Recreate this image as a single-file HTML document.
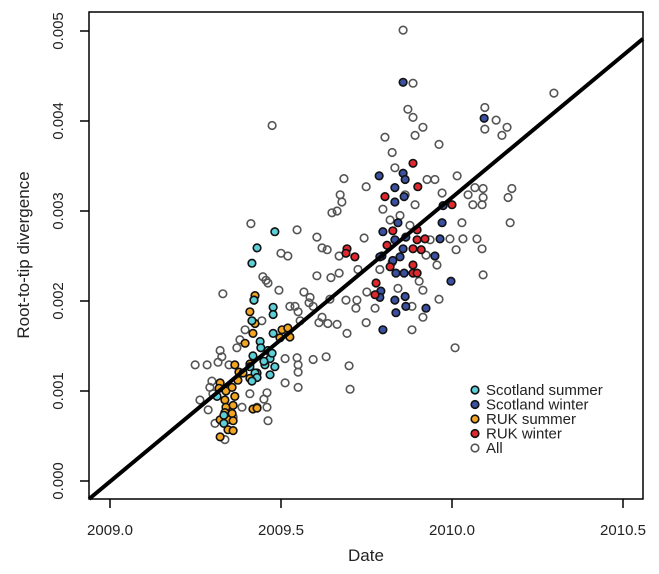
<!DOCTYPE html>
<html><head><meta charset="utf-8"><style>
html,body{margin:0;padding:0;background:#fff;}
svg{display:block;font-family:"Liberation Sans",Arial,sans-serif;}
</style></head><body>
<svg id="chart" width="659" height="574" viewBox="0 0 659 574" xmlns="http://www.w3.org/2000/svg">
<g id="points"></g>
<line id="fit" stroke="#000" stroke-width="4"/>
<rect x="89" y="12" width="554" height="487" fill="none" stroke="#000" stroke-width="1.5"/>
<g id="xaxis"></g>
<g id="yaxis"></g>
<text x="366" y="561" font-size="17" text-anchor="middle" fill="#222">Date</text>
<text transform="translate(29,255) rotate(-90)" font-size="17" text-anchor="middle" fill="#222">Root-to-tip divergence</text>
<g id="legend"></g>
</svg>
<script>
const xTicks=[2009.0,2009.5,2010.0,2010.5];
const xTickLabels=["2009.0","2009.5","2010.0","2010.5"];
const yTicks=[0,0.001,0.002,0.003,0.004,0.005];
const yTickLabels=["0.000","0.001","0.002","0.003","0.004","0.005"];
const fitSlope=0.003157;
const fitIntercept=2009.002;
const seriesNames=["Scotland summer","Scotland winter","RUK summer","RUK winter","All"];
const allDates=[2009.857,2009.886,2009.871,2009.886,2009.915,2009.892,2009.804,2009.962,2009.825,2010.096,2010.129,2010.096,2010.161,2010.146,2010.298,2009.833,2009.927,2009.950,2010.015,2009.971,2010.047,2010.067,2010.091,2010.091,2010.061,2010.088,2010.175,2010.164,2010.170,2010.029,2009.994,2010.032,2010.073,2010.012,2010.088,2009.956,2010.091,2009.904,2009.915,2009.842,2009.883,2009.962,2010.009,2009.474,2009.684,2009.749,2009.673,2009.678,2009.649,2009.664,2009.798,2009.819,2009.848,2009.877,2009.412,2009.547,2009.605,2009.620,2009.635,2009.500,2009.520,2009.743,2009.670,2009.725,2009.447,2009.456,2009.462,2009.605,2009.646,2009.670,2009.494,2009.567,2009.585,2009.582,2009.643,2009.690,2009.722,2009.719,2009.751,2009.775,2009.749,2009.693,2009.664,2009.637,2009.611,2009.550,2009.526,2009.541,2009.594,2009.620,2009.556,2009.512,2009.547,2009.550,2009.550,2009.594,2009.632,2009.699,2009.702,2009.550,2009.512,2009.459,2009.450,2009.330,2009.249,2009.284,2009.316,2009.322,2009.327,2009.348,2009.371,2009.298,2009.292,2009.301,2009.287,2009.307,2009.360,2009.386,2009.409,2009.430,2009.459,2009.462,2009.380,2009.395,2009.444,2009.512,2009.263,2009.336,2009.883,2009.915,2009.789,2009.825,2009.924,2009.936,2009.892,2009.863];
const allValues=[0.00501,0.00442,0.00413,0.00404,0.00393,0.00384,0.00382,0.00374,0.00365,0.00415,0.00401,0.00391,0.00393,0.00384,0.00431,0.00348,0.00335,0.00335,0.00339,0.0032,0.00318,0.00326,0.00325,0.00315,0.00307,0.00307,0.00325,0.00315,0.00287,0.00287,0.00269,0.00269,0.00269,0.00257,0.00258,0.0024,0.00229,0.00222,0.00212,0.00214,0.00194,0.00202,0.00148,0.00395,0.00336,0.00327,0.00318,0.0031,0.00298,0.003,0.00302,0.0029,0.00295,0.00284,0.00286,0.00279,0.00271,0.00259,0.00257,0.00253,0.0025,0.0027,0.0025,0.00235,0.00227,0.00223,0.0022,0.00228,0.00226,0.00231,0.00212,0.0021,0.00204,0.00198,0.00202,0.00201,0.00201,0.00192,0.0021,0.00192,0.00176,0.00164,0.00174,0.00175,0.00176,0.00188,0.00194,0.00194,0.00194,0.00182,0.00178,0.00136,0.00137,0.00129,0.00121,0.00135,0.00138,0.00128,0.00102,0.00104,0.00109,0.00098,0.00091,0.00208,0.00129,0.00129,0.00132,0.00145,0.00138,0.00129,0.00148,0.00111,0.00104,0.00097,0.00079,0.00064,0.00071,0.00082,0.00097,0.00082,0.00082,0.00067,0.00157,0.00168,0.00178,0.00168,0.0009,0.00046,0.00168,0.00182,0.00235,0.00243,0.00251,0.00268,0.00307,0.00318];
const scotWinterDates=[2009.857,2009.857,2009.863,2009.833,2009.833,2009.860,2009.974,2009.971,2009.842,2009.798,2009.833,2009.865,2009.965,2009.857,2009.795,2009.848,2009.827,2009.950,2009.836,2009.860,2009.997,2009.863,2009.833,2009.865,2009.924,2009.836,2009.787,2010.094,2009.792,2009.789,2009.798,2009.789];
const scotWinterValues=[0.00443,0.00342,0.00335,0.00326,0.0031,0.00316,0.00306,0.00287,0.00287,0.00277,0.00268,0.00271,0.00269,0.00258,0.0025,0.00249,0.00245,0.0025,0.00231,0.00231,0.00222,0.00205,0.00201,0.00194,0.00192,0.00187,0.00339,0.00403,0.00211,0.00204,0.00168,0.00249];
const rukWinterDates=[2009.886,2009.900,2009.804,2010.000,2009.827,2009.898,2009.898,2009.921,2009.810,2009.886,2009.886,2009.819,2009.886,2009.898,2009.693,2009.690,2009.716,2009.778,2009.775,2009.910];
const rukWinterValues=[0.00353,0.00327,0.00316,0.00307,0.00278,0.00279,0.00268,0.00269,0.00262,0.00258,0.0024,0.00238,0.00231,0.00231,0.00258,0.00253,0.00249,0.0022,0.00207,0.00257];
const rukSummerDates=[2009.424,2009.421,2009.409,2009.418,2009.424,2009.503,2009.520,2009.526,2009.497,2009.365,2009.377,2009.389,2009.409,2009.409,2009.322,2009.319,2009.339,2009.357,2009.365,2009.336,2009.339,2009.336,2009.360,2009.357,2009.345,2009.360,2009.322,2009.345,2009.360,2009.322,2009.418,2009.430,2009.395,2009.374];
const rukSummerValues=[0.00206,0.00201,0.00188,0.00164,0.00175,0.00168,0.0017,0.0016,0.00159,0.00129,0.00121,0.0012,0.0013,0.00114,0.00109,0.00103,0.001,0.00104,0.00094,0.0009,0.00082,0.00076,0.00084,0.00075,0.00068,0.00067,0.00068,0.00057,0.00056,0.00049,0.0008,0.00081,0.00153,0.00112];
const scotSummerDates=[2009.482,2009.430,2009.415,2009.421,2009.415,2009.477,2009.477,2009.477,2009.439,2009.418,2009.462,2009.468,2009.474,2009.453,2009.430,2009.468,2009.482,2009.409,2009.424,2009.430,2009.415,2009.313,2009.333,2009.333,2009.450,2009.441];
const scotSummerValues=[0.00277,0.00259,0.00242,0.00201,0.00178,0.00193,0.00185,0.00164,0.00155,0.00139,0.00145,0.00136,0.00142,0.00129,0.0012,0.00118,0.00127,0.00127,0.0012,0.00115,0.00111,0.00094,0.00073,0.00064,0.00133,0.00148];

const NS="http://www.w3.org/2000/svg";
function xScale(t){return 110+(t-2009)*342;}
function yScale(v){return 481-v*90000;}
function mk(tag,attrs,parent){const e=document.createElementNS(NS,tag);for(const k in attrs)e.setAttribute(k,attrs[k]);parent.appendChild(e);return e;}

const xa=document.getElementById('xaxis');
xTicks.forEach((t,i)=>{
  const l=mk('line',{x1:xScale(t),x2:xScale(t),y1:499,y2:508,stroke:'#000','stroke-width':1.5},xa);
  
  
  const tx=mk('text',{x:xScale(t),y:535,'font-size':15,'text-anchor':'middle',fill:'#222'},xa);
  
  
  tx.textContent=xTickLabels[i];
});
const ya=document.getElementById('yaxis');
yTicks.forEach((v,i)=>{
  const l=mk('line',{x1:80,x2:89,y1:yScale(v),y2:yScale(v),stroke:'#000','stroke-width':1.5},ya);
  
  
  const tx=mk('text',{transform:`translate(63,${yScale(v)}) rotate(-90)`,'font-size':15,'text-anchor':'middle',fill:'#222'},ya);
  
  
  tx.textContent=yTickLabels[i];
});

const fit=document.getElementById('fit');
const t0=2009+(89-110)/342, t1=2009+(643-110)/342;
let ta=t0, va=fitSlope*(t0-fitIntercept);
if(yScale(va)>499){va=(481-499)/90000;ta=fitIntercept+va/fitSlope;}
const vb=fitSlope*(t1-fitIntercept);
fit.setAttribute('x1',xScale(ta));fit.setAttribute('y1',yScale(va));
fit.setAttribute('x2',xScale(t1));fit.setAttribute('y2',yScale(vb));

const pts=document.getElementById('points');
function drawSeries(dates,vals,fill,stroke,name){
  dates.forEach((d,i)=>{
    const c=mk('circle',{cx:xScale(d),cy:yScale(vals[i]),r:3.8,fill:fill,stroke:stroke,'stroke-width':1.6},pts);
    
    
  });
}
drawSeries(allDates,allValues,'none','#555','point-all');
drawSeries(scotWinterDates,scotWinterValues,'#3a50a0','#111','point-scotland-winter');
drawSeries(rukWinterDates,rukWinterValues,'#e0282e','#111','point-ruk-winter');
drawSeries(rukSummerDates,rukSummerValues,'#f4a521','#111','point-ruk-summer');
drawSeries(scotSummerDates,scotSummerValues,'#5ccfd8','#111','point-scotland-summer');

const leg=document.getElementById('legend');
const legFill=['#5ccfd8','#3a50a0','#f4a521','#e0282e','none'];
const legStroke=['#111','#111','#111','#111','#555'];
seriesNames.forEach((n,i)=>{
  const y=390+i*14.5;
  const c=mk('circle',{cx:475,cy:y,r:3.8,fill:legFill[i],stroke:legStroke[i],'stroke-width':1.6},leg);
  
  
  const tx=mk('text',{x:486,y:y+5,'font-size':15,fill:'#222'},leg);
  
  
  tx.textContent=n;
});
</script>
</body></html>
